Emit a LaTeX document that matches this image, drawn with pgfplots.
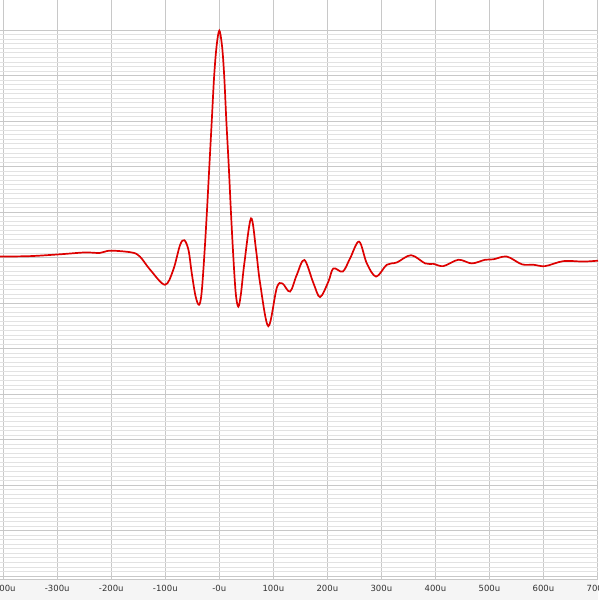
\documentclass[border=0pt]{standalone}
\usepackage{fontspec}
\setmainfont{DejaVu Sans}
\usepackage{pgfplots}
\pgfplotsset{compat=1.18}
\definecolor{gridmaj}{HTML}{C8C8C8}
\definecolor{gridmin}{HTML}{E2E2E2}
\definecolor{band}{HTML}{F5F5F5}
\definecolor{trace}{HTML}{DD0000}
\begin{document}
\begin{tikzpicture}
\path[use as bounding box, clip] (0,-21pt) rectangle (598pt,579pt);
\fill[band] (0,-21pt) rectangle (598pt,0);
\begin{axis}[
  at={(0,0)}, anchor=south west,
  scale only axis,
  width=598pt, height=579pt,
  xmin=-406, xmax=701,
  ymin=-7.066, ymax=5.659,
  xtick={-400,-300,...,700},
  xticklabels={-400u,-300u,-200u,-100u,-0u,100u,200u,300u,400u,500u,600u,700u},
  ytick={-7,-6,...,5},
  yticklabels={},
  minor y tick num=9,
  major tick length=0pt, minor tick length=0pt,
  grid=both,
  major grid style={gridmaj, line width=0.8pt},
  minor grid style={gridmin, line width=0.6pt},
  axis line style={draw=none},
  xticklabel style={font=\fontsize{8.5}{10}\selectfont, text=black!80, anchor=center, yshift=-9.5pt},
  /pgf/number format/assume math mode=true,
  clip=true,
]
\draw[gridmaj, line width=1pt] (rel axis cs:0,0) -- (rel axis cs:1,0);
\addplot[trace, line width=1.7pt, smooth, tension=0.55] coordinates {
(-406,0.02) (-350,0.03) (-295,0.07) (-249,0.11) (-221,0.10) (-202,0.15)
(-162,0.11) (-147,0.02) (-128,-0.27) (-100.6,-0.60) (-85.2,-0.27) (-72.8,0.27)
(-64.8,0.38) (-57,0.16) (-51.1,-0.34) (-44,-0.85) (-37.6,-1.04) (-33,-0.8)
(-28,0.0) (-23,1.0) (-18.5,2.0) (-14,3.0) (-9.5,4.0) (-5,4.65) (0,4.985)
(5,4.65) (9,4.0) (13,3.0) (17.5,2.0) (21.5,1.0) (26,0.0) (30.5,-0.8)
(35.2,-1.08) (40,-0.8) (46.3,-0.13)
(58.7,0.86) (68,0.165) (75.4,-0.56) (90.7,-1.51) (106.3,-0.67) (116.7,-0.57)
(130.9,-0.75) (143.3,-0.385) (157.4,-0.055) (174.1,-0.56) (186.5,-0.87)
(201.9,-0.53) (211.1,-0.24) (228.5,-0.31) (242,-0.02) (258.7,0.35) (273,-0.13)
(290.2,-0.42) (310,-0.16) (328.5,-0.11) (355,0.05) (381,-0.13) (396.3,-0.14)
(414.8,-0.19) (442.6,-0.05) (467.4,-0.13) (492,-0.05) (507.4,-0.04)
(532.2,0.02) (560,-0.15) (581.5,-0.16) (603,-0.19) (637,-0.08) (674,-0.09)
(701,-0.07)
};
\end{axis}
\end{tikzpicture}
\end{document}
